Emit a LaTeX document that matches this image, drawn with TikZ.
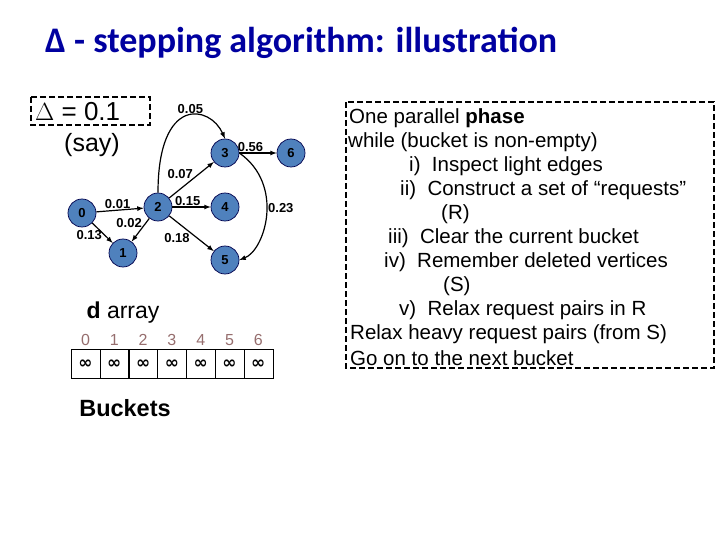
\documentclass[tikz,border=0pt]{standalone}
\usepackage{fontspec}
\setmainfont{Liberation Sans}
\newfontfamily\titlefont{Carlito}
\newfontfamily\symfont{DejaVu Sans}
\begin{document}
\begin{tikzpicture}[x=1pt,y=-1pt,
  v/.style={circle,draw=black!70!blue,fill={rgb,255:red,79;green,129;blue,189},line width=0.7pt,minimum size=28pt,inner sep=0pt,font=\fontsize{13}{13}\selectfont\bfseries},
  e/.style={-latex,line width=1.2pt},
  w/.style={font=\fontsize{13}{13}\selectfont\bfseries,inner sep=1pt},
  cell/.style={draw,minimum width=29pt,minimum height=29pt,inner sep=0pt,font=\symfont\fontsize{17}{17}\selectfont\bfseries},
  idx/.style={text={rgb,255:red,150;green,110;blue,110},font=\fontsize{16}{16}\selectfont},
  rt/.style={anchor=west,inner sep=0pt,font=\fontsize{20.5}{20.5}\selectfont},
  dbox/.style={draw,dashed,line width=2.2pt,dash pattern=on 6pt off 3pt}]
\useasboundingbox (0,0) rectangle (720,540);
\node[anchor=west,inner sep=0pt,text={rgb,255:red,0;green,0;blue,160},font=\titlefont\fontsize{36}{36}\selectfont\bfseries] (title) at (45,43) {Δ - stepping algorithm: illustration};
% Delta box
\draw[dbox] (31,97) rectangle (150,125);
\node[font=\fontsize{26}{26}\selectfont,anchor=west,inner sep=0pt] (delta) at (35,112) {$\Delta$ = 0.1};
\node[font=\fontsize{25}{25}\selectfont,inner sep=0pt] (say) at (92,145) {(say)};
% graph
\node[v] (n0) at (82,213) {0};
\node[v] (n1) at (123,253) {1};
\node[v] (n2) at (158,207) {2};
\node[v] (n3) at (225,153) {3};
\node[v] (n4) at (225,207) {4};
\node[v] (n5) at (225,260) {5};
\node[v] (n6) at (291,153) {6};
\draw[e] (n0) -- node[w,above,pos=0.45] {0.01} (n2);
\draw[e] (n0) -- node[w,left,pos=0.6,xshift=-1pt] {0.13} (n1);
\draw[e] (n2) -- node[w,above left,pos=0.45,xshift=2pt] {0.02} (n1);
\draw[e] (n2) -- node[w,above left,pos=0.5,xshift=3pt] {0.07} (n3);
\draw[e] (n2.north) .. controls (158,95) and (210,105) .. node[w,above,pos=0.55] {0.05} (n3.north);
\draw[e] (n3) -- node[w,above,pos=0.3] {0.56} (n6);
\draw[e] (n2) -- node[w,above,pos=0.4] {0.15} (n4);
\draw[e] (n2) -- node[w,below left,pos=0.45,xshift=2pt] {0.18} (n5);
\draw[e] (n3.east) .. controls (285,185) and (265,250) .. node[w,right,pos=0.45] {0.23} (n5.east);
% d array
\node[font=\fontsize{23}{23}\selectfont,inner sep=0pt] (darr) at (123,313) {\textbf{d} array};
\foreach \i in {0,...,6}{
  \node[cell] (c\i) at (85.5+\i*28.8,364) {∞};
  \node[idx] (i\i) at (85.5+\i*28.8,340) {\i};
}
\node[font=\fontsize{23.5}{23.5}\selectfont\bfseries,inner sep=0pt] (buck) at (125,408) {Buckets};
% right box
\draw[dbox] (346,102) rectangle (714,368);
\node[rt] (l1) at (349,118) {One parallel \textbf{phase}};
\node[rt] (l2) at (348,142) {while (bucket is non-empty)};
\node[rt] (l3) at (409,166) {i)\ \ Inspect light edges};
\node[rt] (l4) at (400,190) {ii)\ \ Construct a set of “requests”};
\node[rt] (l5) at (441,214) {(R)};
\node[rt] (l6) at (388,238) {iii)\ \ Clear the current bucket};
\node[rt] (l7) at (384,262) {iv)\ \ Remember deleted vertices};
\node[rt] (l8) at (443,286) {(S)};
\node[rt] (l9) at (399,310) {v)\ \ Relax request pairs in R};
\node[rt] (l10) at (350,334) {Relax heavy request pairs (from S)};
\node[rt] (l11) at (350,358) {Go on to the next bucket};
\end{tikzpicture}
\end{document}
